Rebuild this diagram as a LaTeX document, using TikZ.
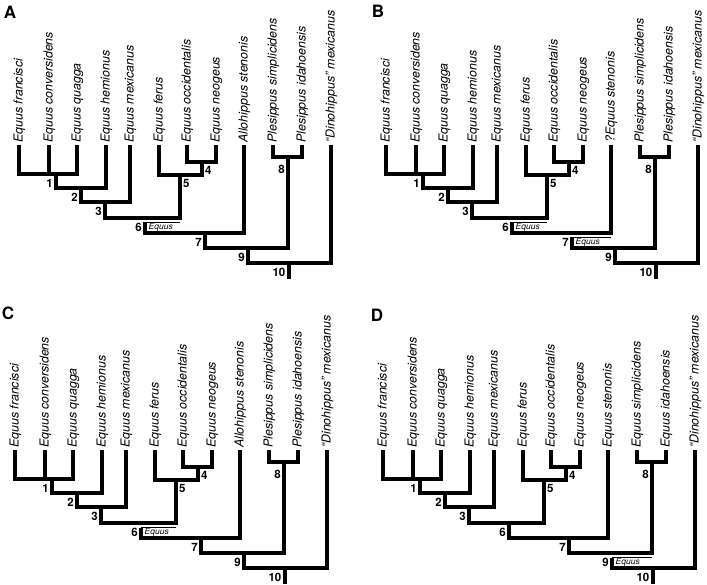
\documentclass[tikz,border=0pt]{standalone}
\usepackage{fontspec}
\setmainfont{TeX Gyre Heros}
\newcommand\horsetree[6]{%
\begin{scope}[shift={(#2,#3)}]
\coordinate (#1-l1) at (19,0);
\coordinate (#1-l2) at (49,0);
\coordinate (#1-l3) at (77,0);
\coordinate (#1-l4) at (106,0);
\coordinate (#1-l5) at (130,0);
\coordinate (#1-l6) at (159,0);
\coordinate (#1-l7) at (187,0);
\coordinate (#1-l8) at (216,0);
\coordinate (#1-l9) at (244,0);
\coordinate (#1-l10) at (273,0);
\coordinate (#1-l11) at (302,0);
\coordinate (#1-l12) at (331,0);
\coordinate (#1-n1) at (56,27);
\coordinate (#1-n2) at (81,41);
\coordinate (#1-n3) at (105,55);
\coordinate (#1-n4) at (202,15);
\coordinate (#1-n5) at (180,28);
\coordinate (#1-n6) at (145,71);
\coordinate (#1-n7) at (205,86);
\coordinate (#1-n8) at (288,10);
\coordinate (#1-n9) at (248,101);
\coordinate (#1-n10) at (289,116);
\coordinate (#1-root) at (289,130);
\node[leaf] (#1-t1) at (22.5,-4) {Equus francisci};
\node[leaf] (#1-t2) at (52.5,-4) {Equus conversidens};
\node[leaf] (#1-t3) at (80.5,-4) {Equus quagga};
\node[leaf] (#1-t4) at (109.5,-4) {Equus hemionus};
\node[leaf] (#1-t5) at (133.5,-4) {Equus mexicanus};
\node[leaf] (#1-t6) at (162.5,-4) {Equus ferus};
\node[leaf] (#1-t7) at (190.5,-4) {Equus occidentalis};
\node[leaf] (#1-t8) at (219.5,-4) {Equus neogeus};
\node[leaf] (#1-t9) at (247.5,-4) {#4};
\node[leaf] (#1-t10) at (276.5,-4) {#5};
\node[leaf] (#1-t11) at (305.5,-4) {#6};
\node[leaf] (#1-t12) at (334.5,-4) {“Dinohippus” mexicanus};
\end{scope}
\draw[br] (#1-l1) |- (#1-n1) -| (#1-l3);
\draw[br] (#1-l2) -- (#1-l2 |- #1-n1);
\draw[br] (#1-n1) |- (#1-n2) -| (#1-l4);
\draw[br] (#1-n2) |- (#1-n3) -| (#1-l5);
\draw[br] (#1-l7) |- (#1-n4) -| (#1-l8);
\draw[br] (#1-l6) |- (#1-n5) -| (#1-n4);
\draw[br] (#1-n3) |- (#1-n6) -| (#1-n5);
\draw[br] (#1-n6) |- (#1-n7) -| (#1-l9);
\draw[br] (#1-l10) |- (#1-n8) -| (#1-l11);
\draw[br] (#1-n7) |- (#1-n9) -| (#1-n8);
\draw[br] (#1-n9) |- (#1-n10) -| (#1-l12);
\draw[br] (#1-n10) -- (#1-root);
\node[num, anchor=east] (#1-c1) at ([xshift=-3pt,yshift=-9pt]#1-n1) {1};
\node[num, anchor=east] (#1-c2) at ([xshift=-3pt,yshift=-9pt]#1-n2) {2};
\node[num, anchor=east] (#1-c3) at ([xshift=-3pt,yshift=-9pt]#1-n3) {3};
\node[num, anchor=west] (#1-c4) at ([xshift=3pt,yshift=-8pt]#1-n4) {4};
\node[num, anchor=west] (#1-c5) at ([xshift=3pt,yshift=-8pt]#1-n5) {5};
\node[num, anchor=east] (#1-c6) at ([xshift=-3pt,yshift=-9pt]#1-n6) {6};
\node[num, anchor=east] (#1-c7) at ([xshift=-3pt,yshift=-9pt]#1-n7) {7};
\node[num, anchor=east] (#1-c8) at ([xshift=-3pt,yshift=-12pt]#1-n8) {8};
\node[num, anchor=east] (#1-c9) at ([xshift=-3pt,yshift=-9pt]#1-n9) {9};
\node[num, anchor=east] (#1-c10) at ([xshift=-3.5pt,yshift=-9pt]#1-n10) {10};
}
\newcommand\equusbox[4]{%
\coordinate (#1-#2-t) at ([yshift=-4.5pt]#1-#2);
\coordinate (#1-#2-b) at (#1-#2 |- #1-#4);
\draw[gapline] ([yshift=-1.7pt]#1-#2) -- (#1-#2-t);
\draw[thinl] (#1-#2-t) -- (#1-#2-t -| #1-#3);
\node[eq] (#1-#2-eq) at ([xshift=3.5pt,yshift=3.3pt]#1-#2-b) {Equus};
}
\begin{document}
\begin{tikzpicture}[x=1pt,y=-1pt,
  br/.style={line width=3.2pt, line join=miter, line cap=rect},
  leaf/.style={rotate=90, anchor=base west, inner sep=0pt, font=\fontsize{12.4}{14}\selectfont\itshape},
  num/.style={inner sep=0pt, font=\fontsize{11.5}{13}\selectfont\bfseries},
  eq/.style={inner sep=0pt, anchor=base west, font=\fontsize{8.5}{10}\selectfont\itshape},
  thinl/.style={line width=0.8pt},
  gapline/.style={white, line width=4pt, line cap=butt},
  panel/.style={font=\fontsize{17}{20}\selectfont\bfseries, inner sep=0pt}]
\useasboundingbox (0,0) rectangle (707,585);
\horsetree{A}{0}{147}{Allohippus stenonis}{Plesippus simplicidens}{Plesippus idahoensis}
\horsetree{B}{367}{147}{?Equus stenonis}{Plesippus simplicidens}{Plesippus idahoensis}
\horsetree{C}{-4}{452}{Allohippus stenonis}{Plesippus simplicidens}{Plesippus idahoensis}
\horsetree{D}{364}{452}{Equus stenonis}{Equus simplicidens}{Equus idahoensis}
\equusbox{A}{n6}{n5}{n7}
\equusbox{B}{n6}{n5}{n7}
\equusbox{B}{n7}{l9}{n9}
\equusbox{C}{n6}{n5}{n7}
\equusbox{D}{n9}{n8}{n10}
\node[panel] (lblA) at (10,12) {A};
\node[panel] (lblB) at (378,11) {B};
\node[panel] (lblC) at (8,313) {C};
\node[panel] (lblD) at (377,315) {D};
\end{tikzpicture}
\end{document}
